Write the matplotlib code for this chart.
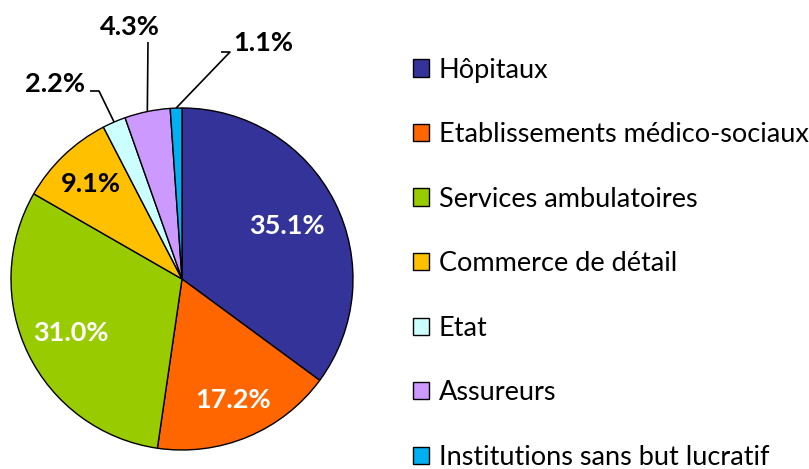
import numpy as np
import matplotlib
matplotlib.use("Agg")
import matplotlib.pyplot as plt

categories = ["Hôpitaux", "Etablissements médico-sociaux", "Services ambulatoires",
              "Commerce de détail", "Etat", "Assureurs", "Institutions sans but lucratif"]
values = [35.1, 17.2, 31.0, 9.1, 2.2, 4.3, 1.1]
colors = ["#333399", "#FF6600", "#99CC00", "#FFC000", "#CCFFFF", "#CC99FF", "#00B0F0"]

plt.rcParams['font.family'] = ['Lato', 'DejaVu Sans']

W, H = 809, 469
fig = plt.figure(figsize=(W / 100, H / 100), dpi=100)
ax = fig.add_axes([0, 0, 1, 1])

cx, cy, R = 182, H - 279, 171
wedges, _ = ax.pie(values, colors=colors, startangle=90, counterclock=False,
                   center=(cx, cy), radius=R,
                   wedgeprops=dict(edgecolor="black", linewidth=1.0))
ax.set_xlim(0, W)
ax.set_ylim(0, H)
ax.set_aspect("equal")
ax.axis("off")

# label placement
inside_dist = {0: 0.69, 1: 0.77, 2: 0.72, 3: 0.77}
inside_color = {0: "white", 1: "white", 2: "white", 3: "black"}
outside = {  # text pos (px), elbow pos (px)
    4: ((55, 84), [(99, 91), (90, 91)]),
    5: ((130, 27), [(148, 42)]),
    6: ((263, 43), [(230, 52), (221, 52)]),
}
LBL = 19.5
for i, (w, v) in enumerate(zip(wedges, values)):
    ang = np.deg2rad((w.theta1 + w.theta2) / 2)
    label = f"{v:.1f}%"
    if i in inside_dist:
        d = inside_dist[i] * R
        ax.text(cx + d * np.cos(ang), cy + d * np.sin(ang), label, ha="center", va="center",
                fontsize=LBL, fontweight="bold", color=inside_color[i])
    else:
        (tx, ty), elbow = outside[i]
        ex, ey = cx + R * np.cos(ang), cy + R * np.sin(ang)
        xs = [ex] + [p[0] for p in elbow]
        ys = [ey] + [H - p[1] for p in elbow]
        ax.plot(xs, ys, color="black", lw=1.2, solid_capstyle="butt")
        ax.text(tx, H - ty, label, ha="center", va="center",
                fontsize=LBL, fontweight="bold", color="black")

leg = ax.legend(wedges, categories, loc="upper left",
                bbox_to_anchor=(413 / W, (H - 57.5) / H), frameon=False,
                fontsize=19.5, borderpad=0, borderaxespad=0,
                handlelength=0.6, handleheight=0.6, handletextpad=0.35,
                labelspacing=1.46)

fig.savefig("out.png", dpi=100)
